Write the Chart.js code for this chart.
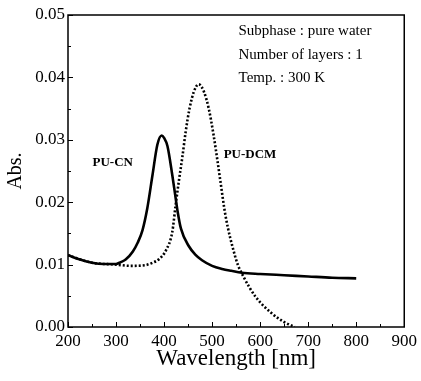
<!DOCTYPE html>
<html>
<head>
<meta charset="utf-8">
<script src="https://cdn.jsdelivr.net/npm/chart.js@4/dist/chart.umd.min.js"></script>
<style>
html,body{margin:0;padding:0;background:#fff;}
#wrap{width:421px;height:381px;position:relative;}
</style>
</head>
<body>
<div id="wrap"><canvas id="c" width="421" height="381"></canvas></div>
<script>
// PU-CN (solid)
const cnWavelength = [200,225,250,275,300,310,320,335,345,355,365,376,386,395,400,407,417,424,428,435,452,465,479,500,521,540,562,600,650,700,750,800];
const cnAbs = [0.0115,0.0108,0.0103,0.0101,0.0101,0.0104,0.0108,0.0121,0.0135,0.0155,0.0190,0.0244,0.0292,0.0307,0.0303,0.0290,0.0244,0.0207,0.0186,0.0158,0.0129,0.0116,0.0107,0.0098,0.0093,0.0090,0.0087,0.0085,0.0083,0.0081,0.0079,0.0078];
// PU-DCM (dotted)
const dcmWavelength = [200,250,300,330,360,376,390,404,417,424,431,438,445,453,462,472,483,493,503,512,517,528,548,555,565,590,624,650,672];
const dcmAbs = [0.0115,0.0103,0.0100,0.0098,0.0099,0.0103,0.0109,0.0123,0.0152,0.0195,0.0235,0.0272,0.0313,0.0350,0.0377,0.0389,0.0377,0.0350,0.0308,0.0262,0.0235,0.0178,0.0113,0.0097,0.0081,0.0049,0.0022,0.0008,0.0000];
const xTicks = [200,300,400,500,600,700,800,900];
const yTicks = [0.00,0.01,0.02,0.03,0.04,0.05];
const seriesNames = ['PU-CN','PU-DCM'];
const infoLines = ['Subphase : pure water','Number of layers : 1','Temp. : 300 K'];

const SERIF = '"Liberation Serif","Times New Roman",serif';

const toPts = (xs, ys) => xs.map((x,i)=>({x:x,y:ys[i]}));

const decor = {
  id:'decor',
  afterDraw(chart){
    const ctx = chart.ctx;
    const xs = chart.scales.x, ys = chart.scales.y;
    const {left,right,top,bottom} = chart.chartArea;
    ctx.save();
    ctx.strokeStyle = '#000';
    ctx.lineWidth = 1.5;
    ctx.strokeRect(left, top, right-left, bottom-top);
    ctx.lineWidth = 1;
    ctx.beginPath();
    for (let v = xTicks[0]; v <= xTicks[xTicks.length-1]; v += 50) {
      const px = Math.round(xs.getPixelForValue(v)) + 0.5;
      const len = (v % 100 === 0) ? 5 : 3;
      ctx.moveTo(px, bottom); ctx.lineTo(px, bottom - len);
    }
    for (let k = 0; k <= 10; k++) {
      const py = Math.round(ys.getPixelForValue(k*0.005)) + 0.5;
      const len = (k % 2 === 0) ? 5 : 3;
      ctx.moveTo(left, py); ctx.lineTo(left + len, py);
    }
    ctx.stroke();
    // info text
    ctx.fillStyle = '#000';
    ctx.textBaseline = 'middle';
    ctx.textAlign = 'left';
    ctx.font = '15px ' + SERIF;
    const infoY = [0.0474, 0.0436, 0.0399];
    infoLines.forEach((t,i)=>{
      ctx.fillText(t, xs.getPixelForValue(555), ys.getPixelForValue(infoY[i]));
    });
    ctx.font = 'bold 13px ' + SERIF;
    ctx.fillText(seriesNames[0], xs.getPixelForValue(251), ys.getPixelForValue(0.0264));
    ctx.fillText(seriesNames[1], xs.getPixelForValue(524), ys.getPixelForValue(0.0277));
    ctx.restore();
  }
};

new Chart(document.getElementById('c'), {
  type:'scatter',
  data:{
    datasets:[
      {label:seriesNames[0], data:toPts(cnWavelength, cnAbs), showLine:true, borderColor:'#000', borderWidth:2.6, pointRadius:0, cubicInterpolationMode:'monotone', fill:false},
      {label:seriesNames[1], data:toPts(dcmWavelength, dcmAbs), showLine:true, borderColor:'#000', borderWidth:2.6, borderDash:[2,2], pointRadius:0, cubicInterpolationMode:'monotone', fill:false}
    ]
  },
  options:{
    responsive:false,
    animation:false,
    devicePixelRatio:1,
    layout:{padding:{top:15,right:14,left:0,bottom:0}},
    plugins:{legend:{display:false}, tooltip:{enabled:false}},
    scales:{
      x:{
        type:'linear', min:200, max:900,
        afterBuildTicks(s){ s.ticks = xTicks.map(v=>({value:v})); },
        afterFit(s){ s.height = 54; },
        grid:{display:false, drawTicks:false},
        border:{display:false},
        ticks:{color:'#000', font:{family:SERIF, size:17}, padding:4, maxRotation:0, autoSkip:false},
        title:{display:true, text:'Wavelength [nm]', color:'#000', font:{family:SERIF, size:23}, padding:{top:0,bottom:8}}
      },
      y:{
        type:'linear', min:0, max:0.05,
        afterBuildTicks(s){ s.ticks = yTicks.map(v=>({value:v})); },
        afterFit(s){ s.width = 68; },
        grid:{display:false, drawTicks:false},
        border:{display:false},
        ticks:{color:'#000', font:{family:SERIF, size:17}, padding:3, callback:(v)=>Number(v).toFixed(2)},
        title:{display:true, text:'Abs.', color:'#000', font:{family:SERIF, size:20}, padding:{top:4,bottom:0}}
      }
    }
  },
  plugins:[decor]
});
</script>
</body>
</html>
